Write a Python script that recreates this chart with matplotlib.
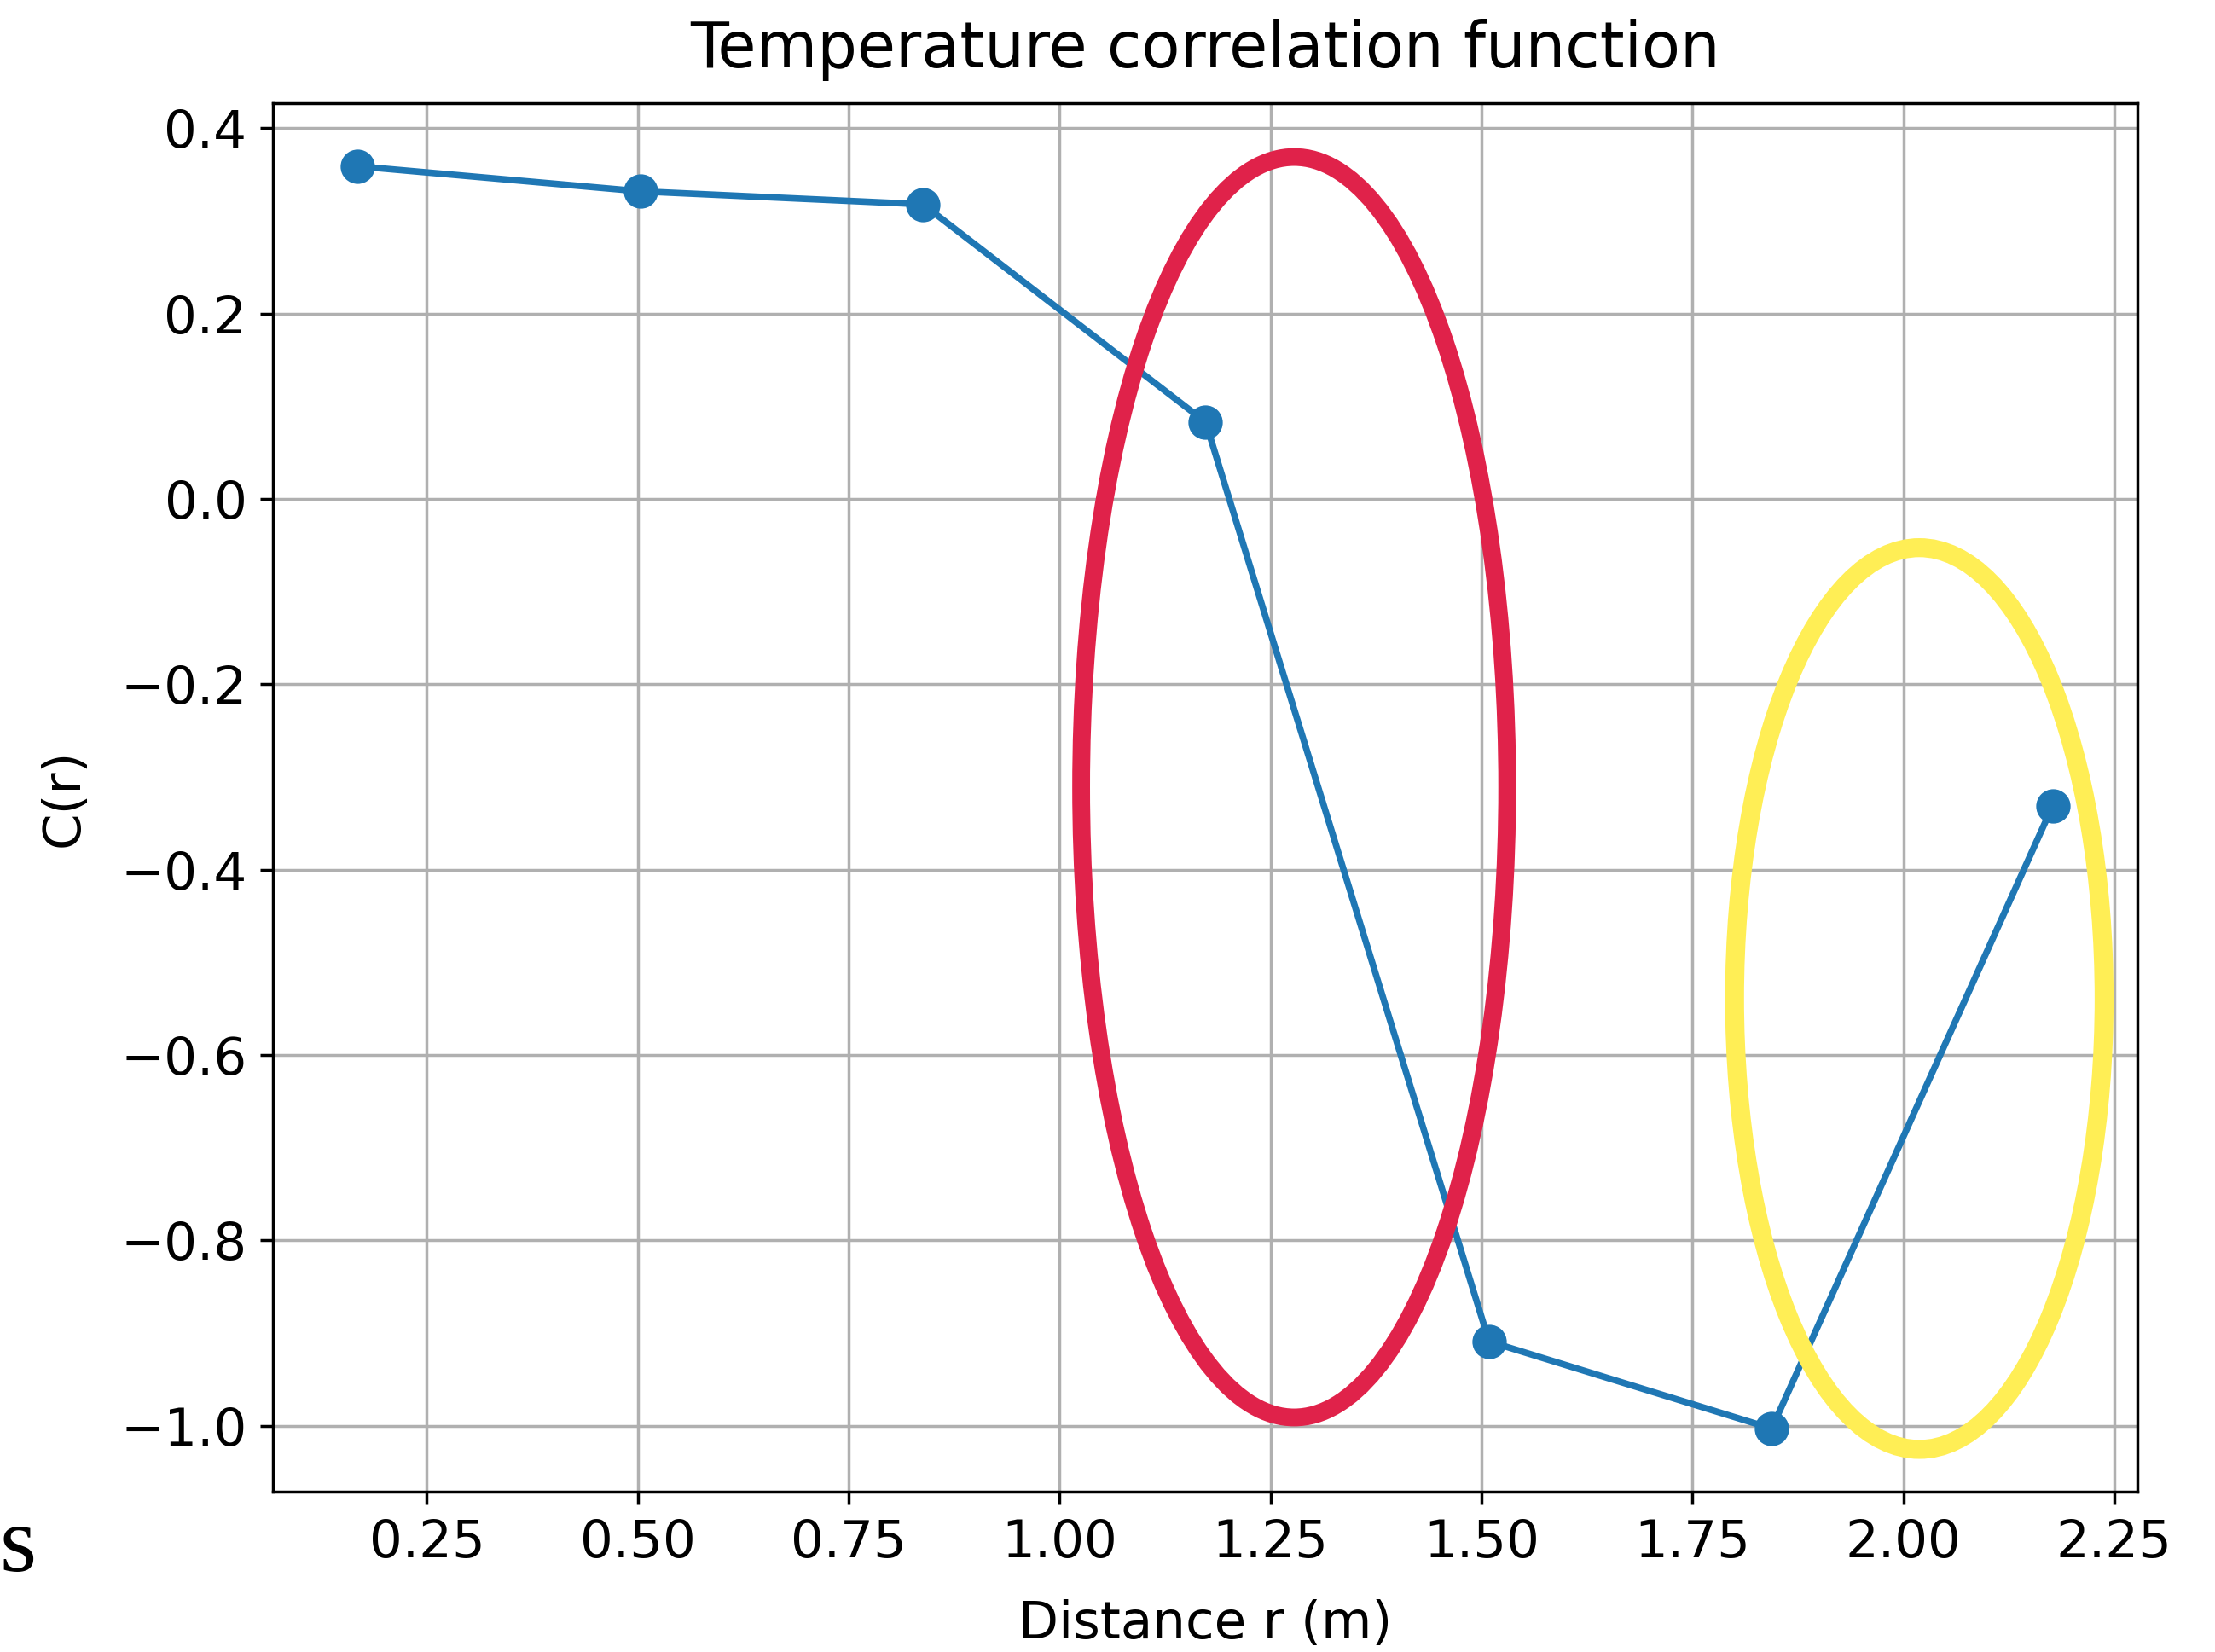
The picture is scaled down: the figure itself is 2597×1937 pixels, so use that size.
"""Temperature correlation function C(r), with the hand-drawn highlight rings."""
import matplotlib
matplotlib.use("Agg")
import matplotlib.pyplot as plt
from matplotlib.patches import Ellipse

# data
r = [0.168, 0.503, 0.838, 1.173, 1.509, 1.844, 2.177]
c_r = [0.359, 0.332, 0.318, 0.083, -0.909, -1.003, -0.331]

# highlight rings: (x centre, y centre, width, height) in data units
ring_names = ["red", "yellow"]
ring_boxes = [(1.278, -0.311, 0.505, 1.36), (2.019, -0.539, 0.438, 0.973)]
ring_colors = ["#E0224A", "#FFEE55"]
ring_widths = [15, 16]

W, H = 2597, 1937
fig = plt.figure(figsize=(W / 100, H / 100), dpi=100)
ax = fig.add_axes([320 / W, 1 - 1749 / H, (2506 - 320) / W, (1749 - 121) / H])

ax.plot(r, c_r, "o-", color="#1f77b4", lw=5.5, ms=27, mew=2, zorder=3)

ax.grid(True, color="#b0b0b0", lw=2.5)
ax.set_axisbelow(True)
for s in ax.spines.values():
    s.set_linewidth(2.5)
ax.tick_params(labelsize=44, length=11, width=2.5, pad=11)
ax.set_xticks([0.25, 0.5, 0.75, 1.0, 1.25, 1.5, 1.75, 2.0, 2.25])
ax.set_yticks([0.4, 0.2, 0.0, -0.2, -0.4, -0.6, -0.8, -1.0])

ax.set_title("Temperature correlation function", fontsize=53, pad=30)
ax.set_xlabel("Distance r (m)", fontsize=44, labelpad=26)
ax.set_ylabel("C(r)", fontsize=44, labelpad=26)

for (x0, y0, w, h), col, lw in zip(ring_boxes, ring_colors, ring_widths):
    ax.add_patch(Ellipse((x0, y0), w, h, fill=False, edgecolor=col,
                         lw=lw, zorder=4, clip_on=False))

# stray glyph from the screenshot's left edge
fig.text(0.0, 1 - 1842 / H, "s", ha="left", va="baseline",
         fontsize=80, family="Liberation Serif")

fig.savefig("out.png", dpi=100)
